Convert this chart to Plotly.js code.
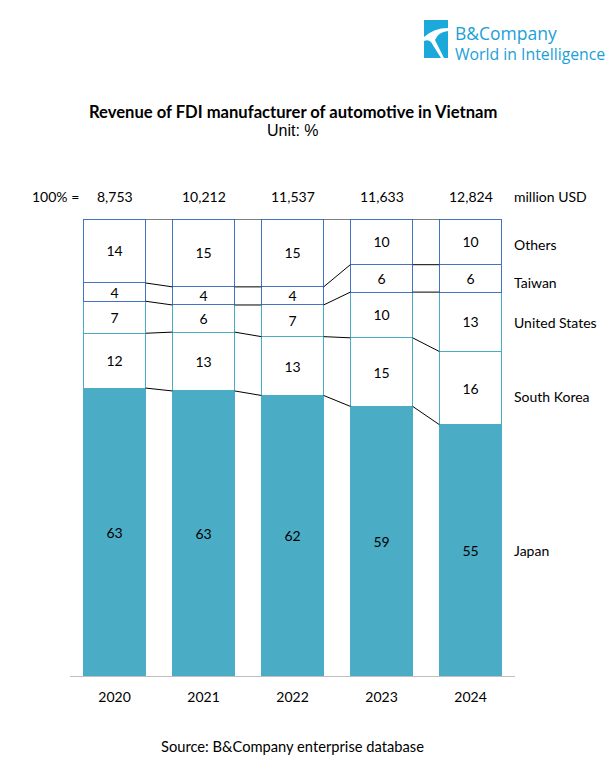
<!DOCTYPE html>
<html>
<head>
<meta charset="utf-8">
<script src="https://cdn.plot.ly/plotly-3.0.1.min.js"></script>
<style>html,body{margin:0;padding:0;background:#fff;}#chart{width:613px;height:771px;}</style>
</head>
<body>
<div id="chart"></div>
<script>
// ---- data ----
const years = [2020, 2021, 2022, 2023, 2024];
const totals = ['8,753', '10,212', '11,537', '11,633', '12,824'];
const japan = [63, 63, 62, 59, 55];
const southKorea = [12, 13, 13, 15, 16];
const unitedStates = [7, 6, 7, 10, 13];
const taiwan = [4, 4, 4, 6, 6];
const others = [14, 15, 15, 10, 10];
const seriesNames = ['Japan', 'South Korea', 'United States', 'Taiwan', 'Others'];

// ---- layout helpers ----
const W = 613, H = 771;
const M = {l: 70, r: 98, t: 219, b: 95};
const PW = W - M.l - M.r, PH = H - M.t - M.b;
const px = x => (x - M.l) / PW;
const py = y => (H - M.b - y) / PH;
const FONT = 'Lato, Calibri, "Noto Sans", sans-serif';

const series = [japan, southKorea, unitedStates, taiwan, others];
const fills = ['#4BACC6', '#FFFFFF', '#FFFFFF', '#FFFFFF', '#FFFFFF'];
const lines = ['#4BACC6', '#4BACC6', '#4BACC6', '#4472C4', '#4472C4'];
const labelShift = [0, -8, -1, -4, -3];
const barWidth = 0.7;

const traces = series.map((vals, k) => ({
  type: 'bar',
  name: seriesNames[k],
  x: years,
  y: vals,
  width: barWidth,
  text: vals.map(String),
  texttemplate: '%{text}',
  textposition: 'inside',
  insidetextanchor: 'middle',
  textangle: 0,
  constraintext: 'none',
  textfont: {family: FONT, size: 14, color: '#000'},
  marker: {color: fills[k], line: {color: lines[k], width: 1}},
  hoverinfo: 'skip'
}));

// cumulative normalized boundaries per year
const sums = years.map((_, i) => series.reduce((s, v) => s + v[i], 0));
const cum = years.map((_, i) => {
  let c = 0; const out = [];
  series.forEach(v => { c += v[i] / sums[i] * 100; out.push(c); });
  return out;
});

const cx = [], cy = [];
for (let k = 0; k < series.length; k++) {
  for (let i = 0; i < years.length - 1; i++) {
    cx.push(years[i] + barWidth / 2, years[i + 1] - barWidth / 2, null);
    cy.push(cum[i][k], cum[i + 1][k], null);
  }
}
traces.push({
  type: 'scatter', mode: 'lines', x: cx, y: cy,
  line: {color: '#000', width: 1}, hoverinfo: 'skip', showlegend: false
});

const last = years.length - 1;
const annotations = [];
// series labels on the right, at the middle of the last bar's segments
series.forEach((v, k) => {
  const lo = k === 0 ? 0 : cum[last][k - 1];
  annotations.push({
    xref: 'paper', yref: 'y', x: 1, y: (lo + cum[last][k]) / 2, xshift: -3, yshift: labelShift[k],
    xanchor: 'left', yanchor: 'middle', showarrow: false,
    text: seriesNames[k], font: {family: FONT, size: 14, color: '#000'}
  });
});
// totals above bars
years.forEach((yr, i) => {
  annotations.push({
    xref: 'x', yref: 'paper', x: yr, y: 1, yshift: 23,
    xanchor: 'center', yanchor: 'middle', showarrow: false,
    text: totals[i], font: {family: FONT, size: 14, color: '#000'}
  });
});
annotations.push({xref: 'paper', yref: 'paper', x: px(81), y: py(196), xanchor: 'right', yanchor: 'middle',
  showarrow: false, text: '100% =', font: {family: FONT, size: 14, color: '#000'}});
annotations.push({xref: 'paper', yref: 'paper', x: 1, y: py(196), xshift: -3, xanchor: 'left', yanchor: 'middle',
  showarrow: false, text: 'million USD', font: {family: FONT, size: 14, color: '#000'}});
// title & subtitle
annotations.push({xref: 'paper', yref: 'paper', x: 0.5, y: py(112), xanchor: 'center', yanchor: 'middle',
  showarrow: false, text: '<b>Revenue of FDI manufacturer of automotive in Vietnam</b>',
  font: {family: FONT, size: 16.6, color: '#000'}});
annotations.push({xref: 'paper', yref: 'paper', x: 0.5, y: py(130), xanchor: 'center', yanchor: 'middle',
  showarrow: false, text: 'Unit: %', font: {family: '"Liberation Sans", Arial, sans-serif', size: 16, color: '#000'}});
// source
annotations.push({xref: 'paper', yref: 'paper', x: px(292), y: py(746), xanchor: 'center', yanchor: 'middle',
  showarrow: false, text: 'Source: B&Company enterprise database', font: {family: FONT, size: 14.7, color: '#000'}});
// logo texts
annotations.push({xref: 'paper', yref: 'paper', x: px(453), y: py(33), xanchor: 'left', yanchor: 'middle',
  showarrow: false, text: 'B&Company', font: {family: '"Open Sans", sans-serif', size: 17.5, color: '#1BA0D8'}});
annotations.push({xref: 'paper', yref: 'paper', x: px(453), y: py(54), xanchor: 'left', yanchor: 'middle',
  showarrow: false, text: 'World in Intelligence', font: {family: '"Open Sans", sans-serif', size: 15.8, color: '#1BA0D8'}});

const P = (x, y) => px(x).toFixed(4) + ',' + py(y).toFixed(4);
const shapes = [
  {type: 'rect', xref: 'paper', yref: 'paper', x0: px(424), x1: px(448), y0: py(58), y1: py(20),
   fillcolor: '#1AA9DA', line: {width: 0}},
  {type: 'path', xref: 'paper', yref: 'paper',
   path: 'M' + P(424, 37) + ' Q' + P(434, 28) + ' ' + P(448, 28) + ' L' + P(448, 31) +
         ' Q' + P(438, 32) + ' ' + P(435, 40) + ' L' + P(444, 58) + ' L' + P(441, 58) +
         ' L' + P(431, 42) + ' Q' + P(428, 39) + ' ' + P(424, 41) + ' Z',
   fillcolor: '#FFFFFF', line: {width: 0}}
];

const layout = {
  width: W, height: H,
  margin: M,
  paper_bgcolor: '#fff', plot_bgcolor: '#fff',
  barmode: 'stack', barnorm: 'percent',
  showlegend: false,
  xaxis: {
    range: [years[0] - 0.5, years[last] + 0.5],
    tickvals: years, ticktext: years.map(String),
    showline: true, linecolor: '#BFBFBF', linewidth: 1,
    ticks: '', showgrid: false, zeroline: false, fixedrange: true,
    ticklabelstandoff: 8,
    tickfont: {family: FONT, size: 14, color: '#000'}
  },
  yaxis: {range: [0, 100], visible: false, fixedrange: true},
  annotations: annotations,
  shapes: shapes
};

Plotly.newPlot('chart', traces, layout, {displayModeBar: false, staticPlot: true});
</script>
</body>
</html>
